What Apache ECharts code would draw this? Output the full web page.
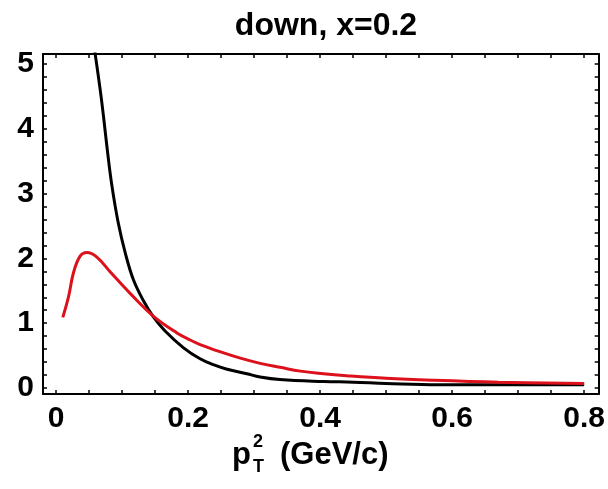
<!DOCTYPE html>
<html>
<head>
<meta charset="utf-8">
<script src="https://cdn.jsdelivr.net/npm/echarts@6/dist/echarts.min.js"></script>
<style>
html,body{margin:0;padding:0;background:#fff;}
#c{width:608px;height:489px;}
</style>
</head>
<body>
<div id="c"></div>
<script>
// ---- data ----
var titleText = "down, x=0.2";
var blackX = [0.055, 0.059, 0.0667, 0.0717, 0.0768, 0.084, 0.094, 0.105, 0.117, 0.132, 0.147, 0.165, 0.193, 0.218, 0.238, 0.259, 0.289, 0.309, 0.339, 0.405, 0.45, 0.50, 0.58, 0.70, 0.80];
var blackY = [5.45, 5.16, 4.6, 4.19, 3.73, 3.15, 2.55, 2.07, 1.67, 1.35, 1.10, 0.88, 0.62, 0.45, 0.36, 0.29, 0.22, 0.17, 0.13, 0.10, 0.09, 0.07, 0.05, 0.05, 0.05];
var redX = [0.010, 0.0187, 0.026, 0.036, 0.0465, 0.0616, 0.082, 0.112, 0.147, 0.183, 0.203, 0.218, 0.248, 0.279, 0.309, 0.339, 0.37, 0.405, 0.44, 0.50, 0.57, 0.67, 0.80];
var redY = [1.09, 1.41, 1.77, 2.03, 2.09, 2.02, 1.79, 1.46, 1.11, 0.85, 0.74, 0.67, 0.56, 0.46, 0.38, 0.32, 0.26, 0.22, 0.19, 0.15, 0.12, 0.09, 0.07];
var xTickValues = [0, 0.05, 0.1, 0.15, 0.2, 0.25, 0.3, 0.35, 0.4, 0.45, 0.5, 0.55, 0.6, 0.65, 0.7, 0.75, 0.8];
var xLabelValues = [0, 0.2, 0.4, 0.6, 0.8];
var yTickValues = [0, 0.2, 0.4, 0.6, 0.8, 1, 1.2, 1.4, 1.6, 1.8, 2, 2.2, 2.4, 2.6, 2.8, 3, 3.2, 3.4, 3.6, 3.8, 4, 4.2, 4.4, 4.6, 4.8, 5];
var yLabelValues = [0, 1, 2, 3, 4, 5];
var xMin = -0.02, xMax = 0.822, yMin = -0.093, yMax = 5.154;

function pairs(xs, ys){ var o=[]; for (var i=0;i<xs.length;i++) o.push([xs[i], ys[i]]); return o; }

var FONT = '"Liberation Sans", Arial, sans-serif';
var lineStyleAxis = {color:'#000', width:2};
function xAx(pos, showLabel){
  return {type:'value', position:pos, min:xMin, max:xMax,
    axisLine:{show:true, onZero:false, lineStyle:lineStyleAxis},
    axisTick:{show:true, inside:true, length:4, customValues:xTickValues, lineStyle:{color:'#000', width:1.5}},
    axisLabel:{show:showLabel, customValues:xLabelValues, margin:10, color:'#000', fontFamily:FONT, fontWeight:'bold', fontSize:30},
    splitLine:{show:false}};
}
function yAx(pos, showLabel){
  return {type:'value', position:pos, min:yMin, max:yMax,
    axisLine:{show:true, onZero:false, lineStyle:lineStyleAxis},
    axisTick:{show:true, inside:true, length:4, customValues:yTickValues, lineStyle:{color:'#000', width:1.5}},
    axisLabel:{show:showLabel, customValues:yLabelValues, margin:9, color:'#000', fontFamily:FONT, fontWeight:'bold', fontSize:30},
    splitLine:{show:false}};
}

var chart = echarts.init(document.getElementById('c'), null, {renderer:'canvas'});
chart.setOption({
  backgroundColor:'#fff',
  animation:false,
  title:{text:titleText, left:321, textAlign:'center', top:5,
    textStyle:{fontFamily:FONT, fontWeight:'bold', fontSize:32, color:'#000'}},
  grid:{left:43, right:9, top:54, bottom:95, containLabel:false},
  xAxis:[xAx('bottom', true), xAx('top', false)],
  yAxis:[yAx('left', true), yAx('right', false)],
  series:[
    {type:'line', data:pairs(blackX, blackY), symbol:'none', smooth:0.4, clip:true,
      lineStyle:{color:'#000', width:3}},
    {type:'line', data:pairs(redX, redY), symbol:'none', smooth:0.4, clip:true,
      lineStyle:{color:'#dc111b', width:3}}
  ],
  graphic:[
    {type:'text', left:232, top:440, style:{text:'p', fontFamily:FONT, fontWeight:'bold', fontSize:31, fill:'#000'}},
    {type:'text', left:253, top:433, style:{text:'2', fontFamily:FONT, fontWeight:'bold', fontSize:18, fill:'#000'}},
    {type:'text', left:253, top:458, style:{text:'T', fontFamily:FONT, fontWeight:'bold', fontSize:18, fill:'#000'}},
    {type:'text', left:280, top:440, style:{text:'(GeV/c)', fontFamily:FONT, fontWeight:'bold', fontSize:31, fill:'#000'}}
  ]
});
</script>
</body>
</html>
